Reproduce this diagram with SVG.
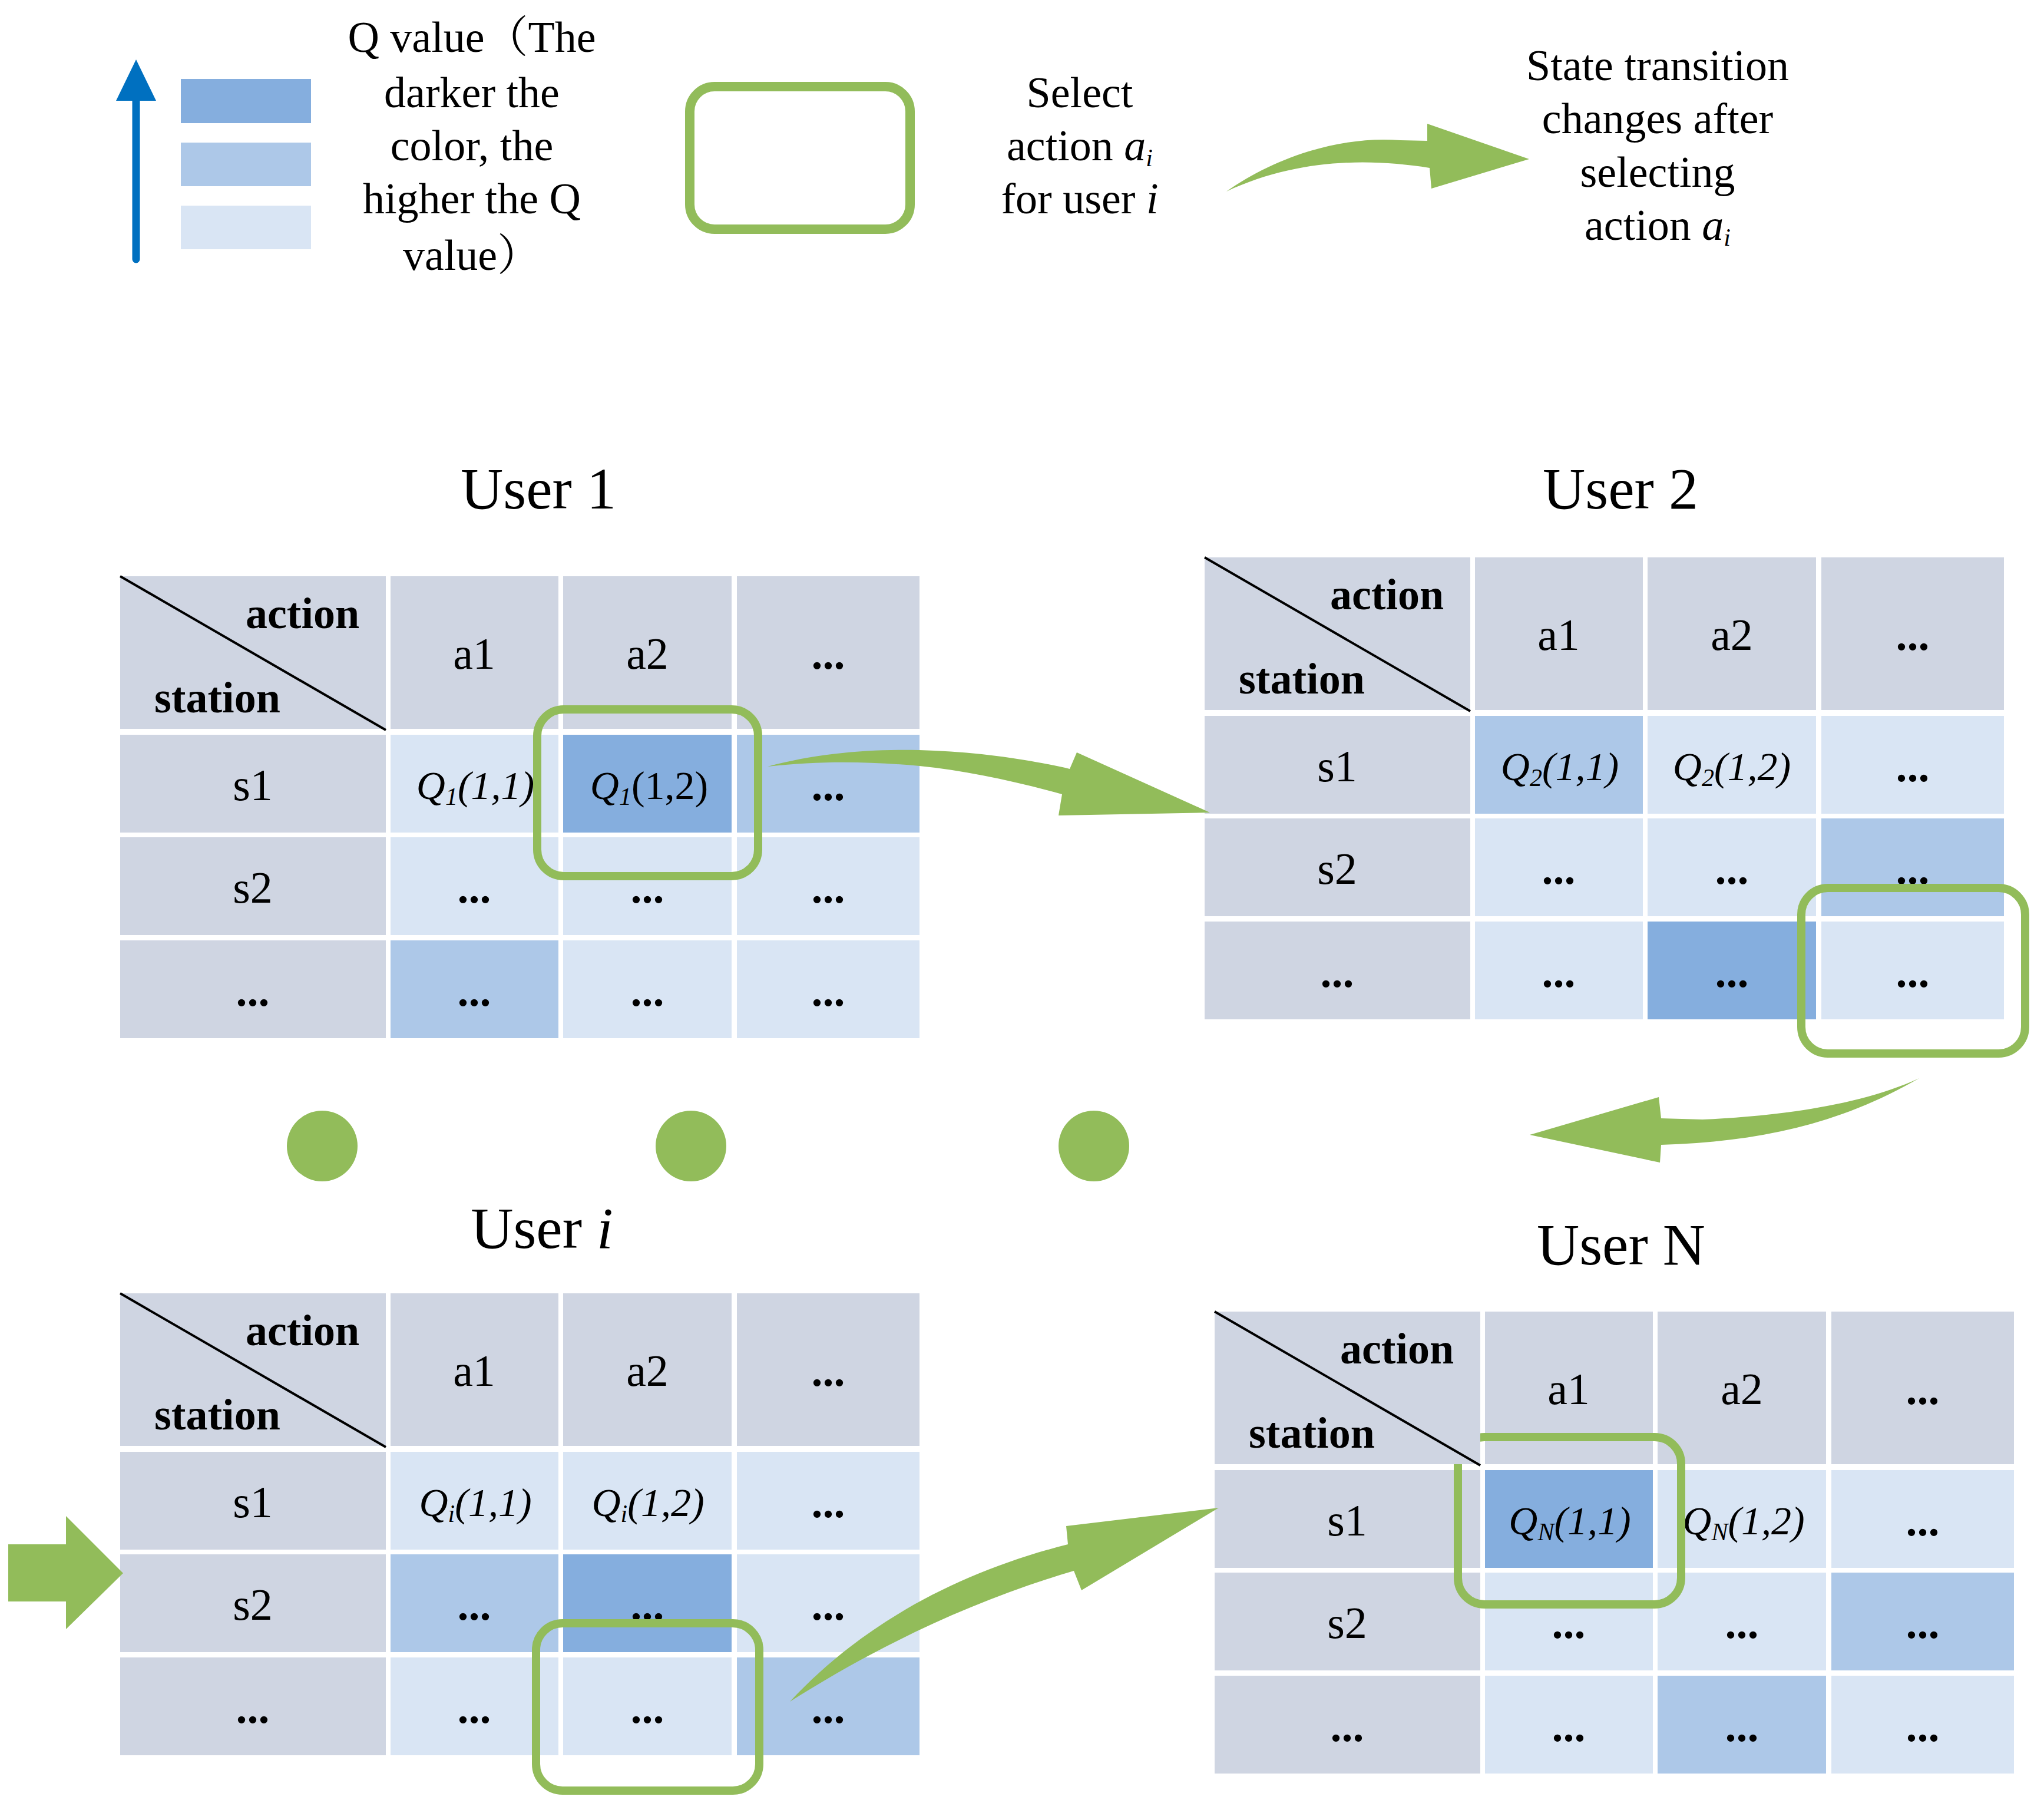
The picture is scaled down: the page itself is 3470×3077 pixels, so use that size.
<svg xmlns="http://www.w3.org/2000/svg" width="3470" height="3077" viewBox="0 0 3470 3077">
<style>
text{font-family:"Liberation Serif","Times New Roman","Noto Serif CJK SC","Noto Sans CJK SC",serif;fill:#000}
.lg{font-size:74px;text-anchor:middle}
.ttl{font-size:100px;text-anchor:middle}
.hd{font-size:76px;text-anchor:middle}
.bd{font-size:74px;font-weight:bold}
.dt{font-size:76px;font-weight:bold;text-anchor:middle}
.q{font-size:68px;font-style:italic;text-anchor:middle}
.sub{font-size:42px}
.g{fill:#CFD5E2}
.l{fill:#D9E5F4}
.m{fill:#ADC8E8}
.d{fill:#85AEDE}
.sel{fill:none;stroke:#92BC5A;stroke-width:14}
.diag{stroke:#000;stroke-width:4}
.arr{fill:#92BC5A}
</style>

<g id="legend">
  <line x1="231" y1="440" x2="231" y2="160" stroke="#0070C0" stroke-width="13" stroke-linecap="round"/>
  <polygon points="231,101 265,171 197,171" fill="#0070C0"/>
  <rect class="d" x="307" y="134" width="221" height="75"/>
  <rect class="m" x="307" y="242" width="221" height="74"/>
  <rect class="l" x="307" y="349" width="221" height="74"/>
  <text class="lg" x="801" y="88">Q value（The</text>
  <text class="lg" x="801" y="182">darker the</text>
  <text class="lg" x="801" y="272">color, the</text>
  <text class="lg" x="801" y="362">higher the Q</text>
  <text class="lg" x="801" y="458">value）</text>
  <rect x="1171" y="147" width="374" height="242" rx="42" fill="none" stroke="#92BC5A" stroke-width="16"/>
  <text class="lg" x="1833" y="182">Select</text>
  <text class="lg" x="1833" y="272">action <tspan font-style="italic">a</tspan><tspan class="sub" font-style="italic" dy="10">i</tspan></text>
  <text class="lg" x="1833" y="362">for user <tspan font-style="italic">i</tspan></text>
  <path class="arr" d="M2082,325 C2160,270 2270,230 2377,238 L2423,239 L2423,210 L2596,270 L2430,320 L2427,285 C2320,268 2200,270 2082,325 Z"/>
  <text class="lg" x="2814" y="136">State transition</text>
  <text class="lg" x="2814" y="226">changes after</text>
  <text class="lg" x="2814" y="317">selecting</text>
  <text class="lg" x="2814" y="407">action <tspan font-style="italic">a</tspan><tspan class="sub" font-style="italic" dy="10">i</tspan></text>
</g>

<g id="user1">
  <text class="ttl" x="914" y="863">User 1</text>
  <rect class="g" x="204" y="978" width="451" height="259"/>
  <rect class="g" x="663" y="978" width="285" height="259"/>
  <rect class="g" x="956" y="978" width="286" height="259"/>
  <rect class="g" x="1251" y="978" width="310" height="259"/>
  <rect class="g" x="204" y="1247" width="451" height="166"/>
  <rect class="l" x="663" y="1247" width="285" height="166"/>
  <rect class="d" x="956" y="1247" width="286" height="166"/>
  <rect class="m" x="1251" y="1247" width="310" height="166"/>
  <rect class="g" x="204" y="1421" width="451" height="166"/>
  <rect class="l" x="663" y="1421" width="285" height="166"/>
  <rect class="l" x="956" y="1421" width="286" height="166"/>
  <rect class="l" x="1251" y="1421" width="310" height="166"/>
  <rect class="g" x="204" y="1596" width="451" height="166"/>
  <rect class="m" x="663" y="1596" width="285" height="166"/>
  <rect class="l" x="956" y="1596" width="286" height="166"/>
  <rect class="l" x="1251" y="1596" width="310" height="166"/>
  <line class="diag" x1="204" y1="978" x2="655" y2="1239"/>
  <text class="bd" x="417" y="1066">action</text>
  <text class="bd" x="262" y="1209">station</text>
  <text class="hd" x="805" y="1135">a1</text>
  <text class="hd" x="1099" y="1135">a2</text>
  <text class="dt" x="1406" y="1135">...</text>
  <text class="hd" x="429" y="1358">s1</text>
  <text class="hd" x="429" y="1532">s2</text>
  <text class="dt" x="429" y="1707">...</text>
  <text class="q" x="807" y="1356">Q<tspan class="sub" dy="10">1</tspan><tspan dy="-10">(1,1)</tspan></text>
  <text class="q" x="1102" y="1356">Q<tspan class="sub" dy="10">1</tspan><tspan dy="-10" font-style="normal">(1,2)</tspan></text>
  <text class="dt" x="1406" y="1358">...</text>
  <text class="dt" x="805" y="1532">...</text>
  <text class="dt" x="1099" y="1532">...</text>
  <text class="dt" x="1406" y="1532">...</text>
  <text class="dt" x="805" y="1707">...</text>
  <text class="dt" x="1099" y="1707">...</text>
  <text class="dt" x="1406" y="1707">...</text>
  <rect class="sel" x="912" y="1204" width="375" height="283" rx="45"/>
</g>

<g id="user2">
  <text class="ttl" x="2751" y="863">User 2</text>
  <rect class="g" x="2045" y="946" width="451" height="259"/>
  <rect class="g" x="2504" y="946" width="285" height="259"/>
  <rect class="g" x="2797" y="946" width="286" height="259"/>
  <rect class="g" x="3092" y="946" width="310" height="259"/>
  <rect class="g" x="2045" y="1215" width="451" height="166"/>
  <rect class="m" x="2504" y="1215" width="285" height="166"/>
  <rect class="l" x="2797" y="1215" width="286" height="166"/>
  <rect class="l" x="3092" y="1215" width="310" height="166"/>
  <rect class="g" x="2045" y="1389" width="451" height="166"/>
  <rect class="l" x="2504" y="1389" width="285" height="166"/>
  <rect class="l" x="2797" y="1389" width="286" height="166"/>
  <rect class="m" x="3092" y="1389" width="310" height="166"/>
  <rect class="g" x="2045" y="1564" width="451" height="166"/>
  <rect class="l" x="2504" y="1564" width="285" height="166"/>
  <rect class="d" x="2797" y="1564" width="286" height="166"/>
  <rect class="l" x="3092" y="1564" width="310" height="166"/>
  <line class="diag" x1="2045" y1="946" x2="2496" y2="1207"/>
  <text class="bd" x="2258" y="1034">action</text>
  <text class="bd" x="2103" y="1177">station</text>
  <text class="hd" x="2646" y="1103">a1</text>
  <text class="hd" x="2940" y="1103">a2</text>
  <text class="dt" x="3247" y="1103">...</text>
  <text class="hd" x="2270" y="1326">s1</text>
  <text class="hd" x="2270" y="1500">s2</text>
  <text class="dt" x="2270" y="1675">...</text>
  <text class="q" x="2648" y="1324">Q<tspan class="sub" dy="10">2</tspan><tspan dy="-10">(1,1)</tspan></text>
  <text class="q" x="2940" y="1324">Q<tspan class="sub" dy="10">2</tspan><tspan dy="-10">(1,2)</tspan></text>
  <text class="dt" x="3247" y="1326">...</text>
  <text class="dt" x="2646" y="1500">...</text>
  <text class="dt" x="2940" y="1500">...</text>
  <text class="dt" x="3247" y="1500">...</text>
  <text class="dt" x="2646" y="1675">...</text>
  <text class="dt" x="2940" y="1675">...</text>
  <text class="dt" x="3247" y="1675">...</text>
  <rect class="sel" x="3058" y="1507" width="380" height="281" rx="45"/>
</g>

<g id="dots">
  <circle cx="547" cy="1945" r="60" fill="#92BC5A"/>
  <circle cx="1173" cy="1945" r="60" fill="#92BC5A"/>
  <circle cx="1857" cy="1945" r="60" fill="#92BC5A"/>
</g>

<g id="useri">
  <text class="ttl" x="920" y="2118">User <tspan font-style="italic">i</tspan></text>
  <rect class="g" x="204" y="2195" width="451" height="259"/>
  <rect class="g" x="663" y="2195" width="285" height="259"/>
  <rect class="g" x="956" y="2195" width="286" height="259"/>
  <rect class="g" x="1251" y="2195" width="310" height="259"/>
  <rect class="g" x="204" y="2464" width="451" height="166"/>
  <rect class="l" x="663" y="2464" width="285" height="166"/>
  <rect class="l" x="956" y="2464" width="286" height="166"/>
  <rect class="l" x="1251" y="2464" width="310" height="166"/>
  <rect class="g" x="204" y="2638" width="451" height="166"/>
  <rect class="m" x="663" y="2638" width="285" height="166"/>
  <rect class="d" x="956" y="2638" width="286" height="166"/>
  <rect class="l" x="1251" y="2638" width="310" height="166"/>
  <rect class="g" x="204" y="2813" width="451" height="166"/>
  <rect class="l" x="663" y="2813" width="285" height="166"/>
  <rect class="l" x="956" y="2813" width="286" height="166"/>
  <rect class="m" x="1251" y="2813" width="310" height="166"/>
  <line class="diag" x1="204" y1="2195" x2="655" y2="2456"/>
  <text class="bd" x="417" y="2283">action</text>
  <text class="bd" x="262" y="2426">station</text>
  <text class="hd" x="805" y="2352">a1</text>
  <text class="hd" x="1099" y="2352">a2</text>
  <text class="dt" x="1406" y="2352">...</text>
  <text class="hd" x="429" y="2575">s1</text>
  <text class="hd" x="429" y="2749">s2</text>
  <text class="dt" x="429" y="2924">...</text>
  <text class="q" x="807" y="2573">Q<tspan class="sub" dy="10">i</tspan><tspan dy="-10">(1,1)</tspan></text>
  <text class="q" x="1100" y="2573">Q<tspan class="sub" dy="10">i</tspan><tspan dy="-10">(1,2)</tspan></text>
  <text class="dt" x="1406" y="2575">...</text>
  <text class="dt" x="805" y="2749">...</text>
  <text class="dt" x="1099" y="2749">...</text>
  <text class="dt" x="1406" y="2749">...</text>
  <text class="dt" x="805" y="2924">...</text>
  <text class="dt" x="1099" y="2924">...</text>
  <text class="dt" x="1406" y="2924">...</text>
  <rect class="sel" x="910" y="2755" width="379" height="284" rx="45"/>
</g>

<g id="userN">
  <text class="ttl" x="2752" y="2146">User N</text>
  <rect class="g" x="2521" y="2226" width="285" height="259"/>
  <rect class="g" x="2814" y="2226" width="286" height="259"/>
  <rect class="g" x="3109" y="2226" width="310" height="259"/>
  <rect class="g" x="2062" y="2495" width="451" height="166"/>
  <rect class="d" x="2521" y="2495" width="285" height="166"/>
  <rect class="l" x="2814" y="2495" width="286" height="166"/>
  <rect class="l" x="3109" y="2495" width="310" height="166"/>
  <rect class="g" x="2062" y="2669" width="451" height="166"/>
  <rect class="l" x="2521" y="2669" width="285" height="166"/>
  <rect class="l" x="2814" y="2669" width="286" height="166"/>
  <rect class="m" x="3109" y="2669" width="310" height="166"/>
  <rect class="g" x="2062" y="2844" width="451" height="166"/>
  <rect class="l" x="2521" y="2844" width="285" height="166"/>
  <rect class="m" x="2814" y="2844" width="286" height="166"/>
  <rect class="l" x="3109" y="2844" width="310" height="166"/>
  <text class="hd" x="2663" y="2383">a1</text>
  <text class="hd" x="2957" y="2383">a2</text>
  <text class="dt" x="3264" y="2383">...</text>
  <text class="hd" x="2287" y="2606">s1</text>
  <text class="hd" x="2287" y="2780">s2</text>
  <text class="dt" x="2287" y="2955">...</text>
  <text class="q" x="2665" y="2604">Q<tspan class="sub" dy="10">N</tspan><tspan dy="-10">(1,1)</tspan></text>
  <text class="q" x="2960" y="2604">Q<tspan class="sub" dy="10">N</tspan><tspan dy="-10">(1,2)</tspan></text>
  <text class="dt" x="3264" y="2606">...</text>
  <text class="dt" x="2663" y="2780">...</text>
  <text class="dt" x="2957" y="2780">...</text>
  <text class="dt" x="3264" y="2780">...</text>
  <text class="dt" x="2663" y="2955">...</text>
  <text class="dt" x="2957" y="2955">...</text>
  <text class="dt" x="3264" y="2955">...</text>
  <rect class="sel" x="2475" y="2439" width="379" height="284" rx="45"/>
  <rect class="g" x="2062" y="2226" width="451" height="259"/>
  <line class="diag" x1="2062" y1="2226" x2="2513" y2="2487"/>
  <text class="bd" x="2275" y="2314">action</text>
  <text class="bd" x="2120" y="2457">station</text>
</g>

<g id="connectors">
  <path class="arr" d="M1303,1301 C1400,1275 1500,1270 1586,1274 C1680,1278 1760,1292 1816,1305 L1828,1277 L2054,1379 L1797,1384 L1803,1348 C1720,1325 1640,1308 1561,1300 C1480,1293 1400,1290 1303,1301 Z"/>
  <path class="arr" d="M3258,1830 C3150,1880 3000,1895 2890,1900 L2820,1898 L2816,1862 L2597,1926 L2818,1973 L2820,1943 C2980,1938 3120,1910 3258,1830 Z"/>
  <path class="arr" d="M1341,2888 C1460,2760 1620,2670 1813,2621 L1810,2590 L2069,2559 L1836,2699 L1823,2666 C1640,2720 1480,2800 1341,2888 Z"/>
  <polygon class="arr" points="14,2621 112,2621 112,2573 209,2670 112,2765 112,2718 14,2718"/>
</g>
</svg>
